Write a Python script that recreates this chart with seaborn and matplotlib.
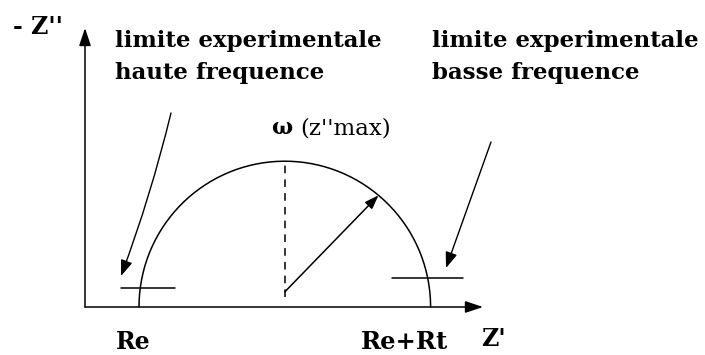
import numpy as np
import pandas as pd
import matplotlib
matplotlib.use("Agg")
import matplotlib.pyplot as plt
import seaborn as sns

# Nyquist diagram of a simple charge-transfer cell
Re = 1.0          # electrolyte resistance
Rt = 5.4          # charge-transfer resistance
arrow_angle_deg = 50   # direction of the radius arrow

axis_labels = ["- Z''", "Z'"]
foot_labels = ["Re", "Re+Rt"]
hf_label = ["limite experimentale", "haute frequence"]
bf_label = ["limite experimentale", "basse frequence"]
peak_symbol = "ω"
peak_text = "(z''max)"

sns.set_theme(style="white")
plt.rcParams["font.family"] = ["DejaVu Serif", "DejaVu Sans"]

W, H, DPI = 705, 355, 100
fig = plt.figure(figsize=(W / DPI, H / DPI), dpi=DPI)
ax = fig.add_axes([0, 0, 1, 1])
ax.set_axis_off()

# one data unit = 54 px in both directions, origin of the diagram at px (85, 307)
S, OX, OY = 54.0, 85.0, 307.0
ax.set_xlim((0 - OX) / S, (W - OX) / S)
ax.set_ylim((OY - H) / S, (OY - 0) / S)


def px(x, y):
    return ((x - OX) / S, (OY - y) / S)


k = dict(color="black", lw=1.1)

# axes with arrow heads
ax.annotate("", xy=(0, px(0, 28)[1]), xytext=(0, 0),
            arrowprops=dict(arrowstyle="-|>,head_length=0.9,head_width=0.3",
                            color="black", lw=1.1, shrinkA=0, shrinkB=0))
ax.annotate("", xy=(px(483, 0)[0], 0), xytext=(0, 0),
            arrowprops=dict(arrowstyle="-|>,head_length=0.9,head_width=0.3",
                            color="black", lw=1.1, shrinkA=0, shrinkB=0))

# semicircle between Re and Re+Rt
r = Rt / 2
cx = Re + r
theta = np.linspace(np.pi, 0, 200)
arc = pd.DataFrame({"zr": cx + r * np.cos(theta), "zi": r * np.sin(theta)})
sns.lineplot(data=arc, x="zr", y="zi", sort=False, ax=ax, **k)

# dashed line to the apex
ax.plot([cx, cx], [0.18, r], color="black", lw=1.1, ls=(0, (5, 4)))

# radius arrow
a = np.deg2rad(arrow_angle_deg)
ax.annotate("", xy=(cx + r * np.cos(a), r * np.sin(a)), xytext=(cx, 0.28),
            arrowprops=dict(arrowstyle="-|>,head_length=0.7,head_width=0.25",
                            color="black", lw=1.1, shrinkA=0, shrinkB=0))

# experimental limits marks
ax.plot([px(121, 0)[0], px(175, 0)[0]], [px(0, 288)[1]] * 2, **k)
ax.plot([px(392, 0)[0], px(463, 0)[0]], [px(0, 278)[1]] * 2, **k)

# labels pointing to the limits
ax.annotate("", xy=px(121, 276), xytext=px(171, 113),
            arrowprops=dict(arrowstyle="-|>,head_length=0.8,head_width=0.3",
                            color="black", lw=1.0, shrinkA=0, shrinkB=0,
                            connectionstyle="arc3,rad=-0.03"))
ax.annotate("", xy=px(446, 268), xytext=px(491, 142),
            arrowprops=dict(arrowstyle="-|>,head_length=0.8,head_width=0.3",
                            color="black", lw=1.0, shrinkA=0, shrinkB=0,
                            connectionstyle="arc3,rad=0.0"))

tk = dict(color="black", fontweight="bold", fontsize=16.5)
ax.text(*px(13, 27), axis_labels[0], ha="left", va="center",
        **{**tk, "fontsize": 17})
ax.text(*px(481, 339), axis_labels[1], ha="left", va="center",
        **{**tk, "fontsize": 17})
ax.text(*px(116, 342), foot_labels[0], ha="left", va="center",
        **{**tk, "fontsize": 17})
ax.text(*px(361, 342), foot_labels[1], ha="left", va="center",
        **{**tk, "fontsize": 17.5})

ax.text(*px(115, 41), hf_label[0], ha="left", va="center", **tk)
ax.text(*px(115, 73), hf_label[1], ha="left", va="center", **tk)
ax.text(*px(432, 41), bf_label[0], ha="left", va="center", **tk)
ax.text(*px(432, 73), bf_label[1], ha="left", va="center", **tk)

ax.text(*px(271, 128), peak_symbol, ha="left", va="center",
        **{**tk, "fontsize": 16})
ax.text(*px(300, 128), peak_text, ha="left", va="center", color="black", fontsize=16.5)

fig.savefig("out.png", dpi=DPI, facecolor="white")
